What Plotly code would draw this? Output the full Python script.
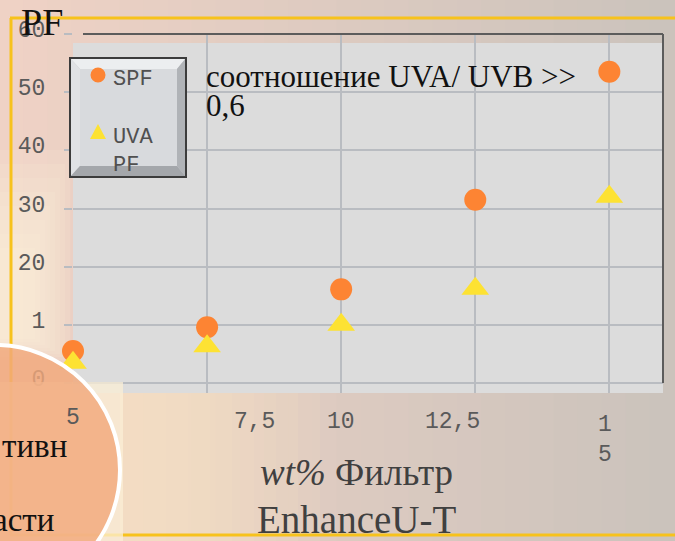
import plotly.graph_objects as go

# ---- data ----
wt_percent = [5, 7.5, 10, 12.5, 15]
spf_values = [5.5, 9.6, 16.1, 31.5, 53.5]
uvapf_values = [3.5, 6.3, 10.0, 16.2, 32.0]
y_tick_vals = [0, 10, 20, 30, 40, 50, 60]
y_tick_text = ["0", "1", "20", "30", "40", "50", "60"]
x_tick_vals = [5, 7.5, 10, 12.5, 15]
x_tick_text = ["5", "7,5", "10", "12,5", "1<br>5"]

# ---- layout geometry (pixels) ----
W, H = 675, 541
L, R, T, B = 73, 12, 34, 148
PW, PH = W - L - R, H - T - B


def px(x):
    return (x - L) / PW


def py(y):
    return (H - B - y) / PH


shapes = []

# background gradient strips (pink-peach left -> greyish right)
c0 = (239, 210, 197)
c1 = (203, 195, 188)
n = 28
sw = W / n
for i in range(n):
    t = i / (n - 1)
    col = tuple(int(round(c0[k] + (c1[k] - c0[k]) * t)) for k in range(3))
    shapes.append(dict(type="rect", xref="paper", yref="paper", layer="below",
                       x0=px(i * sw - 1), x1=px((i + 1) * sw + 1), y0=py(-5), y1=py(H + 5),
                       fillcolor="rgb(%d,%d,%d)" % col, line=dict(width=0)))
# soft glows (stacked translucent rectangles)
for k in range(8):
    shapes.append(dict(type="rect", xref="paper", yref="paper", layer="below",
                       x0=px(-5), x1=px(70 - 5 * k), y0=py(360 - 3 * k), y1=py(150 + 14 * k),
                       fillcolor="#fff6dc", opacity=0.12, line=dict(width=0)))
for k in range(8):
    shapes.append(dict(type="rect", xref="paper", yref="paper", layer="below",
                       x0=px(120), x1=px(320 - 22 * k), y0=py(541), y1=py(393),
                       fillcolor="#fbe7c8", opacity=0.1, line=dict(width=0)))
# plot background (grey) leaving the translucent strip at the top
shapes.append(dict(type="rect", xref="paper", yref="paper", layer="below",
                   x0=px(73), x1=px(663), y0=py(393), y1=py(43),
                   fillcolor="#dcdcdc", line=dict(width=0)))
# yellow slide lines
for (x0, y0, x1, y1) in [(10, 18, 675, 18), (10, 535, 675, 535), (11, 18, 11, 535)]:
    shapes.append(dict(type="line", xref="paper", yref="paper", layer="below",
                       x0=px(x0), y0=py(y0), x1=px(x1), y1=py(y1),
                       line=dict(color="#f7c21c", width=3)))
# dark plot borders
shapes.append(dict(type="line", xref="paper", yref="paper", x0=px(83), x1=px(663),
                   y0=py(34), y1=py(34), line=dict(color="#5c5c5c", width=2)))
shapes.append(dict(type="line", xref="paper", yref="paper", x0=px(663), x1=px(663),
                   y0=py(34), y1=py(383), line=dict(color="#5c5c5c", width=2)))

# bottom-left overlay block and circle
shapes.append(dict(type="rect", xref="paper", yref="paper", layer="above",
                   x0=px(-5), x1=px(123), y0=py(545), y1=py(382),
                   fillcolor="#fbefd6", opacity=0.75, line=dict(width=0)))
shapes.append(dict(type="circle", xref="paper", yref="paper", layer="above",
                   x0=px(-130), x1=px(120), y0=py(595), y1=py(345),
                   fillcolor="#f2a87b", opacity=0.82, line=dict(width=0)))
shapes.append(dict(type="circle", xref="paper", yref="paper", layer="above",
                   x0=px(-130), x1=px(120), y0=py(595), y1=py(345),
                   line=dict(color="#ffffff", width=4)))


def poly(pts):
    return "M " + " L ".join("%f,%f" % (px(a), py(b)) for a, b in pts) + " Z"


# bevelled legend box
ox0, oy0, ox1, oy1 = 70, 58, 186, 177
ix0, iy0, ix1, iy1 = 80, 69, 177, 166
shapes.append(dict(type="rect", xref="paper", yref="paper", x0=px(ox0), x1=px(ox1),
                   y0=py(oy1), y1=py(oy0), fillcolor="#c8cacd", line=dict(width=0)))
for pts, col in [
    ([(ox0, oy0), (ox1, oy0), (ix1, iy0), (ix0, iy0)], "#eceef0"),
    ([(ox0, oy0), (ix0, iy0), (ix0, iy1), (ox0, oy1)], "#e0e2e5"),
    ([(ox0, oy1), (ix0, iy1), (ix1, iy1), (ox1, oy1)], "#a4a7ab"),
    ([(ox1, oy0), (ox1, oy1), (ix1, iy1), (ix1, iy0)], "#b0b3b7"),
]:
    shapes.append(dict(type="path", xref="paper", yref="paper", path=poly(pts),
                       fillcolor=col, line=dict(width=0)))
shapes.append(dict(type="rect", xref="paper", yref="paper", x0=px(ix0), x1=px(ix1),
                   y0=py(iy1), y1=py(iy0), fillcolor="#d8dadd", line=dict(width=0)))
shapes.append(dict(type="rect", xref="paper", yref="paper", x0=px(ox0), x1=px(ox1),
                   y0=py(oy1), y1=py(oy0), fillcolor="rgba(0,0,0,0)",
                   line=dict(color="#3c3c3c", width=2)))
# legend symbols
shapes.append(dict(type="circle", xref="paper", yref="paper", x0=px(90.5), x1=px(105.5),
                   y0=py(82.5), y1=py(67.5), fillcolor="#fd8433", line=dict(width=0)))
shapes.append(dict(type="path", xref="paper", yref="paper",
                   path=poly([(98, 124), (106, 139), (90, 139)]),
                   fillcolor="#fde233", line=dict(width=0)))

fig = go.Figure()
fig.add_trace(go.Scatter(x=wt_percent, y=spf_values, mode="markers", name="SPF",
                         marker=dict(symbol="circle", size=22, color="#fd8433"),
                         cliponaxis=False))
fig.add_trace(go.Scatter(x=wt_percent, y=uvapf_values, mode="markers", name="UVA PF",
                         marker=dict(symbol="triangle-up", size=24, color="#fde233"),
                         cliponaxis=False))

mono = "Liberation Mono"
serif = "Liberation Serif"


def ann(x, y, text, size, color, family, xanchor="center", **kw):
    d = dict(x=px(x), y=py(y), xref="paper", yref="paper", text=text, showarrow=False,
             xanchor=xanchor, yanchor="middle", font=dict(family=family, size=size, color=color))
    d.update(kw)
    return d


annotations = []
x_shifts = [0, 47, 0, -23, -4]
x_centers = [418, 422, 422, 422, 440]
for v, txt, sh, cy in zip(x_tick_vals, x_tick_text, x_shifts, x_centers):
    annotations.append(dict(x=v, xref="x", y=py(cy), yref="paper", text=txt, showarrow=False,
                            xshift=sh, xanchor="center", yanchor="middle", align="center",
                            font=dict(family=mono, size=23, color="#5a5a5a")))
annotations += [
    ann(356, 472, "<i>wt%</i> Фильтр", 37, "#404040", serif),
    ann(356, 519, "EnhanceU-T", 39, "#404040", serif),
    ann(42, 22, "PF", 38, "#111111", serif),
    ann(204, 76, "соотношение UVA/ UVB >>", 31, "#111111", serif, xanchor="left"),
    ann(204, 105, "0,6", 31, "#111111", serif, xanchor="left"),
    ann(69, 446, "тивн", 33, "#111111", serif, xanchor="right"),
    ann(56, 520, "асти", 33, "#111111", serif, xanchor="right"),
    ann(111, 79, "SPF", 22, "#505050", mono, xanchor="left"),
    ann(111, 137, "UVA", 22, "#505050", mono, xanchor="left"),
    ann(111, 165, "PF", 22, "#505050", mono, xanchor="left"),
]

fig.update_layout(
    width=W, height=H,
    margin=dict(l=L, r=R, t=T, b=B),
    paper_bgcolor="#dccabf",
    plot_bgcolor="rgba(0,0,0,0)",
    showlegend=False,
    shapes=shapes,
    annotations=annotations,
    xaxis=dict(range=[5, 16], tickvals=x_tick_vals, showticklabels=False,
               showgrid=True, gridcolor="#b9bcc1", gridwidth=2, zeroline=False,
               showline=False, ticks=""),
    yaxis=dict(range=[-1.72, 60], tickvals=y_tick_vals, ticktext=y_tick_text,
               showgrid=True, gridcolor="#b9bcc1", gridwidth=2, zeroline=False,
               showline=False, ticks="outside", ticklen=8, tickwidth=2,
               tickcolor="#b9bcc1", ticklabelstandoff=14, ticklabelshift=-5,
               tickfont=dict(family=mono, size=23, color="#5a5a5a")),
)

fig.write_html("out.html", config={"displayModeBar": False},
               post_script="document.body.style.margin='0';")
